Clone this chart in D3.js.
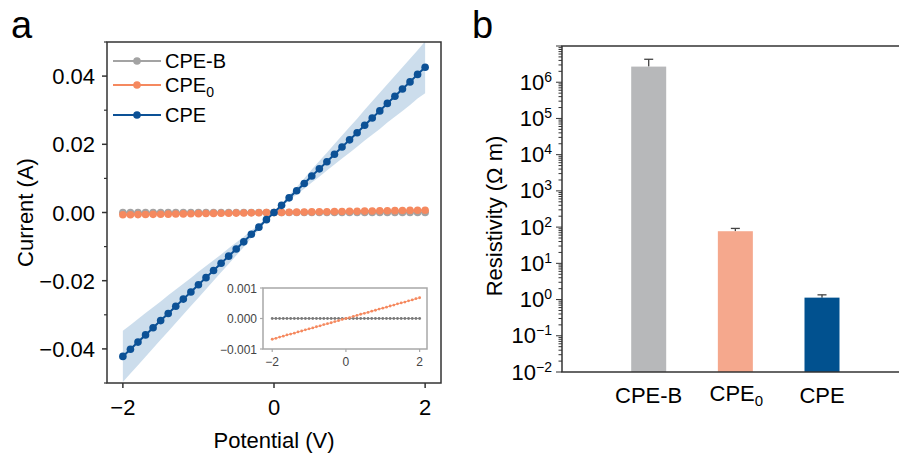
<!DOCTYPE html>
<html>
<head>
<meta charset="utf-8">
<script src="https://cdn.jsdelivr.net/npm/d3@7"></script>
<style>
  body { margin: 0; background: #fff; }
  svg { display: block; font-family: "Liberation Sans", Arial, sans-serif; }
</style>
</head>
<body>
<svg id="chart" width="899" height="457"></svg>
<script>
// panel a: I-V curves
const voltage = [-2.0, -1.9, -1.8, -1.7, -1.6, -1.5, -1.4, -1.3, -1.2, -1.1, -1.0,
  -0.9, -0.8, -0.7, -0.6, -0.5, -0.4, -0.3, -0.2, -0.1, 0.0,
  0.1, 0.2, 0.3, 0.4, 0.5, 0.6, 0.7, 0.8, 0.9, 1.0,
  1.1, 1.2, 1.3, 1.4, 1.5, 1.6, 1.7, 1.8, 1.9, 2.0]

const currentCPE = [-0.0422, -0.0401, -0.0380, -0.0359, -0.0338, -0.0317, -0.0296, -0.0275, -0.0254, -0.0233, -0.0212,
  -0.0191, -0.0170, -0.0149, -0.0128, -0.0107, -0.0086, -0.0064, -0.0043, -0.0021, 0.0000,
  0.0021, 0.0043, 0.0064, 0.0085, 0.0107, 0.0128, 0.0149, 0.0171, 0.0192, 0.0213,
  0.0234, 0.0256, 0.0277, 0.0298, 0.0320, 0.0341, 0.0362, 0.0383, 0.0405, 0.0426]

const sdCPE = [0.0075, 0.0071, 0.0068, 0.0064, 0.0060, 0.0056, 0.0053, 0.0049, 0.0045, 0.0041, 0.0038,
  0.0034, 0.0030, 0.0026, 0.0023, 0.0019, 0.0015, 0.0011, 0.0008, 0.0004, 0.0000,
  0.0004, 0.0008, 0.0011, 0.0015, 0.0019, 0.0023, 0.0026, 0.0030, 0.0034, 0.0038,
  0.0041, 0.0045, 0.0049, 0.0053, 0.0056, 0.0060, 0.0064, 0.0068, 0.0071, 0.0076]

const currentCPE0 = [-0.00068, -0.00065, -0.00061, -0.00058, -0.00054, -0.00051, -0.00048, -0.00044, -0.00041, -0.00037, -0.00034,
  -0.00031, -0.00027, -0.00024, -0.00020, -0.00017, -0.00014, -0.00010, -0.00007, -0.00003, 0.00000,
  0.00003, 0.00007, 0.00010, 0.00014, 0.00017, 0.00020, 0.00024, 0.00027, 0.00031, 0.00034,
  0.00037, 0.00041, 0.00044, 0.00048, 0.00051, 0.00054, 0.00058, 0.00061, 0.00065, 0.00068]

const currentCPEB = [0, 0, 0, 0, 0, 0, 0, 0, 0, 0, 0,
  0, 0, 0, 0, 0, 0, 0, 0, 0, 0,
  0, 0, 0, 0, 0, 0, 0, 0, 0, 0,
  0, 0, 0, 0, 0, 0, 0, 0, 0, 0]

const xTicksA = [-2, 0, 2]
const yTicksA = [-0.04, -0.02, 0.00, 0.02, 0.04]
const yMinorA = [-0.05, -0.03, -0.01, 0.01, 0.03, 0.05]
const insetYTicks = [-0.001, 0.000, 0.001]

// panel b: resistivity bars
const samples = ['CPE-B', 'CPE0', 'CPE']
const resistivity = [2.7e6, 77, 1.13]
const resistivityErr = [1.6e6, 15, 0.22]
const logTicksB = [-2, -1, 0, 1, 2, 3, 4, 5, 6]

const colors = { 'CPE-B': '#a3a3a3', 'CPE0': '#f5895f', 'CPE': '#0c5196' }
const barColors = ['#b7b8ba', '#f5a88d', '#01518f']

const svg = d3.select('#chart')
const axisColor = '#333'

// ---------- panel a ----------
const A = { left: 107, right: 441, top: 42, bottom: 383 }
const x = d3.scaleLinear().domain([-2.21, 2.21]).range([A.left, A.right])
const y = d3.scaleLinear().domain([-0.05, 0.05]).range([A.bottom, A.top])

svg.append('text').attr('x', 11).attr('y', 38).attr('font-size', 38).text('a')

svg.append('clipPath').attr('id', 'clipA')
  .append('rect').attr('x', A.left).attr('y', A.top)
  .attr('width', A.right - A.left).attr('height', A.bottom - A.top)

const gA = svg.append('g')
const plotA = gA.append('g').attr('clip-path', 'url(#clipA)')

const band = d3.area()
  .x((d, i) => x(voltage[i]))
  .y0((d, i) => y(currentCPE[i] - sdCPE[i]))
  .y1((d, i) => y(currentCPE[i] + sdCPE[i]))
plotA.append('path').datum(voltage).attr('d', band)
  .attr('fill', '#c7d9ea').attr('opacity', 0.9)

const seriesA = [
  { name: 'CPE-B', values: currentCPEB },
  { name: 'CPE0', values: currentCPE0 },
  { name: 'CPE', values: currentCPE }
]

const line = d3.line().x((d, i) => x(voltage[i])).y(d => y(d))
seriesA.forEach(s => {
  const g = plotA.append('g')
  g.append('path').datum(s.values).attr('d', line)
    .attr('fill', 'none').attr('stroke', colors[s.name]).attr('stroke-width', 2)
  g.selectAll('circle').data(s.values).enter().append('circle')
    .attr('cx', (d, i) => x(voltage[i])).attr('cy', d => y(d))
    .attr('r', 3.8).attr('fill', colors[s.name])
})

// frame
gA.append('rect').attr('x', A.left).attr('y', A.top)
  .attr('width', A.right - A.left).attr('height', A.bottom - A.top)
  .attr('fill', 'none').attr('stroke', axisColor).attr('stroke-width', 1.5)

// y ticks
gA.selectAll('.ytick').data(yTicksA).enter().append('line')
  .attr('x1', A.left - 5).attr('x2', A.left)
  .attr('y1', d => y(d)).attr('y2', d => y(d))
  .attr('stroke', axisColor).attr('stroke-width', 1.5)
gA.selectAll('.yminor').data(yMinorA).enter().append('line')
  .attr('x1', A.left - 3).attr('x2', A.left)
  .attr('y1', d => y(d)).attr('y2', d => y(d))
  .attr('stroke', axisColor).attr('stroke-width', 1.2)
gA.selectAll('.ylab').data(yTicksA).enter().append('text')
  .attr('x', A.left - 12).attr('y', d => y(d) + 8)
  .attr('text-anchor', 'end').attr('font-size', 22)
  .text(d => d3.format('.2f')(d).replace('-', '\u2212'))

// x ticks
gA.selectAll('.xtick').data(xTicksA).enter().append('line')
  .attr('x1', d => x(d)).attr('x2', d => x(d))
  .attr('y1', A.bottom).attr('y2', A.bottom + 5)
  .attr('stroke', axisColor).attr('stroke-width', 1.5)
gA.selectAll('.xlab').data(xTicksA).enter().append('text')
  .attr('x', d => x(d)).attr('y', 415)
  .attr('text-anchor', 'middle').attr('font-size', 22)
  .text(d => String(d).replace('-', '\u2212'))

gA.append('text').attr('x', (A.left + A.right) / 2).attr('y', 448)
  .attr('text-anchor', 'middle').attr('font-size', 22).text('Potential (V)')
gA.append('text')
  .attr('transform', 'translate(33,' + (A.top + A.bottom) / 2 + ') rotate(-90)')
  .attr('text-anchor', 'middle').attr('font-size', 22).text('Current (A)')

// legend
const legendY = [61, 85, 115]
seriesA.forEach((s, i) => {
  const g = gA.append('g').attr('transform', 'translate(0,' + legendY[i] + ')')
  g.append('line').attr('x1', 113).attr('x2', 161)
    .attr('stroke', colors[s.name]).attr('stroke-width', 2)
  g.append('circle').attr('cx', 137).attr('r', 3.8).attr('fill', colors[s.name])
  const t = g.append('text').attr('x', 165).attr('y', 7).attr('font-size', 20)
  if (s.name === 'CPE0') {
    t.text('CPE')
    t.append('tspan').attr('font-size', 14).attr('dy', 5).text('0')
  } else {
    t.text(s.name)
  }
})

// inset
const I = { left: 263, right: 427, top: 288, bottom: 349 }
const xi = d3.scaleLinear().domain([-2.25, 2.2]).range([I.left, I.right])
const yi = d3.scaleLinear().domain([-0.001, 0.001]).range([I.bottom, I.top])
const gI = gA.append('g')
gI.append('rect').attr('x', I.left).attr('y', I.top)
  .attr('width', I.right - I.left).attr('height', I.bottom - I.top)
  .attr('fill', '#fff').attr('stroke', '#a8a8a8').attr('stroke-width', 1.5)

const insetSeries = [
  { values: currentCPEB, color: '#7a7a7a' },
  { values: currentCPE0, color: '#f5895f' }
]
const lineI = d3.line().x((d, i) => xi(voltage[i])).y(d => yi(d))
insetSeries.forEach(s => {
  gI.append('path').datum(s.values).attr('d', lineI)
    .attr('fill', 'none').attr('stroke', s.color).attr('stroke-width', 0.8)
  gI.append('g').selectAll('circle').data(s.values).enter().append('circle')
    .attr('cx', (d, i) => xi(voltage[i])).attr('cy', d => yi(d))
    .attr('r', 1.4).attr('fill', s.color)
})
gI.selectAll('.iyt').data(insetYTicks).enter().append('line')
  .attr('x1', I.left - 3).attr('x2', I.left)
  .attr('y1', d => yi(d)).attr('y2', d => yi(d))
  .attr('stroke', '#a8a8a8').attr('stroke-width', 1.2)
gI.selectAll('.iyl').data(insetYTicks).enter().append('text')
  .attr('x', I.left - 6).attr('y', d => yi(d) + 4.5)
  .attr('text-anchor', 'end').attr('font-size', 12).attr('fill', '#444')
  .text(d => d3.format('.3f')(d).replace('-', '\u2212'))
gI.selectAll('.ixt').data(xTicksA).enter().append('line')
  .attr('x1', d => xi(d)).attr('x2', d => xi(d))
  .attr('y1', I.bottom).attr('y2', I.bottom + 3)
  .attr('stroke', '#a8a8a8').attr('stroke-width', 1.2)
gI.selectAll('.ixl').data(xTicksA).enter().append('text')
  .attr('x', d => xi(d)).attr('y', 366)
  .attr('text-anchor', 'middle').attr('font-size', 12).attr('fill', '#444')
  .text(d => String(d).replace('-', '\u2212'))

// ---------- panel b ----------
const B = { left: 562, right: 899, top: 46, bottom: 372 }
const yb = d3.scaleLog().domain([1e-2, 1e7]).range([B.bottom, B.top])
const xb = d3.scalePoint().domain(samples).range([648.7, 822])
const barW = 35

svg.append('text').attr('x', 472).attr('y', 38).attr('font-size', 38).text('b')

const gB = svg.append('g')

// error bars (upper half only visible)
samples.forEach((s, i) => {
  const cx = xb(s)
  const top = yb(resistivity[i] + resistivityErr[i])
  gB.append('line').attr('x1', cx).attr('x2', cx)
    .attr('y1', yb(resistivity[i])).attr('y2', top)
    .attr('stroke', '#444').attr('stroke-width', 1.3)
  gB.append('line').attr('x1', cx - 4.5).attr('x2', cx + 4.5)
    .attr('y1', top).attr('y2', top)
    .attr('stroke', '#444').attr('stroke-width', 1.3)
})

gB.selectAll('.bar').data(samples).enter().append('rect')
  .attr('x', d => xb(d) - barW / 2).attr('width', barW)
  .attr('y', (d, i) => yb(resistivity[i]))
  .attr('height', (d, i) => B.bottom - yb(resistivity[i]))
  .attr('fill', (d, i) => barColors[i])

// axes lines
gB.append('line').attr('x1', B.left).attr('x2', B.left).attr('y1', B.top).attr('y2', B.bottom)
  .attr('stroke', axisColor).attr('stroke-width', 1.5)
gB.append('line').attr('x1', B.left - 0.75).attr('x2', B.right).attr('y1', B.bottom).attr('y2', B.bottom)
  .attr('stroke', axisColor).attr('stroke-width', 1.5)
gB.append('line').attr('x1', B.left - 0.75).attr('x2', B.right).attr('y1', B.top).attr('y2', B.top)
  .attr('stroke', axisColor).attr('stroke-width', 1.5)

// log ticks
const allTicks = yb.ticks()
const isMajor = d => Math.abs(Math.log10(d) - Math.round(Math.log10(d))) < 1e-9
gB.selectAll('.bminor').data(allTicks).enter().append('line')
  .attr('x1', d => isMajor(d) ? B.left - 6 : B.left - 3.5)
  .attr('x2', B.left)
  .attr('y1', d => yb(d)).attr('y2', d => yb(d))
  .attr('stroke', axisColor).attr('stroke-width', 1)

const tickLab = gB.selectAll('.blab').data(logTicksB).enter().append('text')
  .attr('x', 552).attr('y', d => yb(Math.pow(10, d)) + 7.5)
  .attr('text-anchor', 'end').attr('font-size', 22)
tickLab.append('tspan').text('10')
tickLab.append('tspan').attr('font-size', 14).attr('dy', -8)
  .text(d => String(d).replace('-', '\u2212'))

// category labels
samples.forEach(s => {
  const t = gB.append('text').attr('x', xb(s)).attr('text-anchor', 'middle').attr('font-size', 22)
  if (s === 'CPE0') {
    t.attr('y', 401).attr('x', xb(s) + 1).text('CPE')
    t.append('tspan').attr('font-size', 15).attr('dy', 5).text('0')
  } else {
    t.attr('y', 403).text(s)
  }
})

gB.append('text')
  .attr('transform', 'translate(502,' + 216 + ') rotate(-90)')
  .attr('text-anchor', 'middle').attr('font-size', 22).text('Resistivity (\u03a9 m)')
</script>
</body>
</html>
